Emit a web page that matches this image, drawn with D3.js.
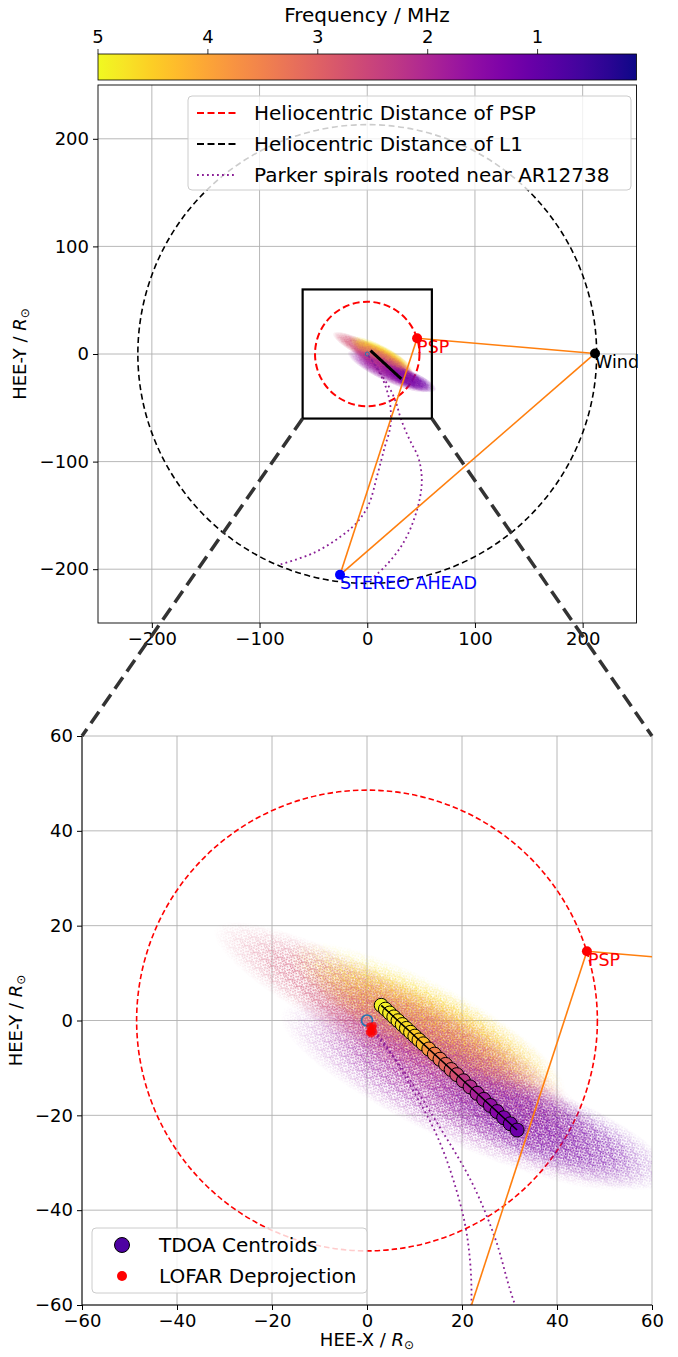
<!DOCTYPE html>
<html>
<head>
<meta charset="utf-8">
<script src="https://cdn.jsdelivr.net/npm/d3@7"></script>
<style>
  body { margin: 0; background: #fff; }
  text { font-family: "DejaVu Sans", sans-serif; }
</style>
</head>
<body>
<svg id="fig" width="678" height="1357"></svg>
<script>
// ---- data (HEE coordinates in solar radii) ----
const cbarTicks = [5, 4, 3, 2, 1];
const cbarRange = [5, 0.1];            // MHz, left -> right

const topTicks = [-200, -100, 0, 100, 200];
const zoomTicks = [-60, -40, -20, 0, 20, 40, 60];

const pspDist = 48.5;                  // heliocentric distance of PSP
const l1Dist = 213;                    // heliocentric distance of L1
const zoomBox = [-60, 60];

const craftNames = ["PSP", "Wind", "STEREO AHEAD"];
const craftX = [46.3, 211.5, -25.3];
const craftY = [14.6, 0.5, -205.2];
const craftLinks = [[0, 1], [0, 2], [1, 2]];

// TDOA centroids, high -> low frequency
const tdoaFreq = [4.95, 4.9, 4.85, 4.8, 4.75, 4.7, 4.65, 4.6, 4.5, 4.4, 4.3,
                  3.8, 3.5, 3.3, 3.1, 2.9, 2.7,
                  2.3, 2.1, 1.9, 1.75, 1.6, 1.45, 1.3, 1.2, 1.1];
const tdoaX = [3.00, 3.88, 4.77, 5.65, 6.53, 7.42, 8.30, 9.18, 10.07, 10.95, 11.83,
               13.01, 14.19, 15.37, 16.55, 17.72, 18.90,
               20.30, 21.70, 23.17, 24.57, 25.97, 27.37, 28.77, 30.17, 31.60];
const tdoaY = [3.20, 2.39, 1.58, 0.76, -0.05, -0.86, -1.67, -2.49, -3.30, -4.11, -4.92,
               -6.01, -7.09, -8.17, -9.26, -10.34, -11.42,
               -12.71, -14.00, -15.35, -16.64, -17.92, -19.21, -20.50, -21.78, -23.10];

// LOFAR deprojected positions
const lofarX = [0.6, 1.2, 0.8, 1.4, 0.9, 1.3, 0.5];
const lofarY = [-1.2, -1.6, -2.1, -2.4, -2.8, -1.1, -2.5];

// Monte-Carlo source clouds, one extent per frequency band
const cloudFreq = [2.7, 4.8, 4.3, 3.0, 2.3, 1.6, 1.1];
const cloudX = [0, 12, 15, 14, 17, 20, 38];
const cloudY = [3, 0.5, -2, -5, -10, -16, -23];
const cloudA = [36, 32, 30, 32, 36, 42, 28];
const cloudB = [8, 8, 8, 9, 10, 10, 8];
const cloudAngle = [-27, -27, -27, -28, -28, -25, -22];

// Parker spirals rooted near AR12738
const spiralAX = [0.8, 3.2, 9.2, 14.5, 18.2, 21, 22, 21, 16.4, 10, 0.9, -10, -23.8, -50, -80.4];
const spiralAY = [-1.5, -4.1, -13.9, -23.8, -33.7, -45, -58, -70, -86, -110, -141, -157, -169, -185, -195.4];
const spiralBX = [1.5, 8, 15, 22, 27, 30.5, 35, 41, 47, 50, 50.5, 48, 44, 38, 30, 17, 2];
const spiralBY = [-2.5, -11, -22, -34, -46, -58, -70, -83, -95, -108, -122, -138, -152, -167, -181, -197, -211];

// ---- drawing ----
const svg = d3.select("#fig");
const defs = svg.append("defs");
const color = d3.scaleSequential(d3.interpolatePlasma).domain([0.1, 5]);
const ORANGE = "#ff7f0e";
const SPIRAL = "#8a1f96";

// colour bar
const cb = d3.scaleLinear().domain(cbarRange).range([98, 636.5]);
const cg = defs.append("linearGradient").attr("id", "cbgrad");
d3.range(0, 21).forEach(i => {
  cg.append("stop").attr("offset", i / 20)
    .attr("stop-color", color(cbarRange[0] + (cbarRange[1] - cbarRange[0]) * i / 20));
});
svg.append("rect").attr("x", 98).attr("y", 54).attr("width", 538.5).attr("height", 26)
  .attr("fill", "url(#cbgrad)").attr("stroke", "#000").attr("stroke-width", 0.8);
cbarTicks.forEach(t => {
  svg.append("line").attr("x1", cb(t)).attr("x2", cb(t)).attr("y1", 54).attr("y2", 49)
    .attr("stroke", "#000").attr("stroke-width", 0.8);
  svg.append("text").attr("x", cb(t)).attr("y", 43).attr("text-anchor", "middle")
    .attr("font-size", 18).text(t);
});
svg.append("text").attr("x", 367).attr("y", 22).attr("text-anchor", "middle")
  .attr("font-size", 20).text("Frequency / MHz");

// shared defs: fade mask + dot tile
const fg = defs.append("radialGradient").attr("id", "fadeGrad");
fg.append("stop").attr("offset", 0).attr("stop-color", "#fff").attr("stop-opacity", 1);
fg.append("stop").attr("offset", 0.55).attr("stop-color", "#fff").attr("stop-opacity", 0.8);
fg.append("stop").attr("offset", 1).attr("stop-color", "#fff").attr("stop-opacity", 0);
defs.append("mask").attr("id", "fade").attr("maskContentUnits", "objectBoundingBox")
  .append("rect").attr("width", 1).attr("height", 1).attr("fill", "url(#fadeGrad)");
const dotSpots = [[.05, .12], [.31, .04], [.62, .15], [.88, .08], [.18, .33], [.47, .28],
                  [.74, .39], [.95, .31], [.09, .55], [.36, .51], [.58, .62], [.83, .58],
                  [.24, .76], [.49, .85], [.71, .79], [.93, .83], [.02, .95], [.40, .70],
                  [.66, .97], [.14, .88]];

function drawCloud(g, xs, ys, tile, dotR, prefix) {
  const k = xs(1) - xs(0);
  cloudFreq.forEach((f, i) => {
    const pat = defs.append("pattern").attr("id", prefix + i)
      .attr("patternUnits", "userSpaceOnUse").attr("width", tile).attr("height", tile)
      .attr("patternTransform", `rotate(${i * 37 + 11}) translate(${i * tile * 0.29},${i * tile * 0.53})`);
    dotSpots.forEach(p => pat.append("circle").attr("cx", p[0] * tile).attr("cy", p[1] * tile)
      .attr("r", dotR).attr("fill", color(f)).attr("fill-opacity", 0.8));
    const cx = xs(cloudX[i]), cy = ys(cloudY[i]);
    g.append("ellipse").attr("cx", cx).attr("cy", cy)
      .attr("rx", cloudA[i] * k).attr("ry", cloudB[i] * k)
      .attr("transform", `rotate(${-cloudAngle[i]},${cx},${cy})`)
      .attr("fill", `url(#${prefix}${i})`).attr("mask", "url(#fade)");
  });
}

function drawCloudSolid(g, xs, ys) {
  const k = xs(1) - xs(0);
  cloudFreq.forEach((f, i) => {
    const cx = xs(cloudX[i]), cy = ys(cloudY[i]);
    g.append("ellipse").attr("cx", cx).attr("cy", cy)
      .attr("rx", cloudA[i] * k).attr("ry", cloudB[i] * k)
      .attr("transform", `rotate(${-cloudAngle[i]},${cx},${cy})`)
      .attr("fill", color(f)).attr("fill-opacity", 0.6).attr("mask", "url(#fade)");
  });
}

function gridAndAxes(xs, ys, ticks, fontSize) {
  const [x0, x1] = xs.range(), [y0, y1] = ys.range();
  const g = svg.append("g");
  ticks.forEach(t => {
    g.append("line").attr("x1", xs(t)).attr("x2", xs(t)).attr("y1", y0).attr("y2", y1)
      .attr("stroke", "#b0b0b0").attr("stroke-width", 0.9);
    g.append("line").attr("x1", x0).attr("x2", x1).attr("y1", ys(t)).attr("y2", ys(t))
      .attr("stroke", "#b0b0b0").attr("stroke-width", 0.9);
  });
  const ax = svg.append("g").attr("transform", `translate(0,${y0})`)
    .call(d3.axisBottom(xs).tickValues(ticks).tickSize(5).tickPadding(4));
  const ay = svg.append("g").attr("transform", `translate(${x0},0)`)
    .call(d3.axisLeft(ys).tickValues(ticks).tickSize(5).tickPadding(4));
  [ax, ay].forEach(a => {
    a.attr("font-size", fontSize).attr("font-family", "DejaVu Sans");
    a.select(".domain").remove();
    a.selectAll("text").attr("fill", "#000");
  });
}

function rsunLabel(t, prefix) {
  t.append("tspan").text(prefix);
  t.append("tspan").attr("font-style", "italic").text("R");
  t.append("tspan").attr("font-size", 12).attr("dy", 3).text("\u2299");
}

function yLabel(x, y) {
  const t = svg.append("text").attr("transform", `translate(${x},${y}) rotate(-90)`)
    .attr("text-anchor", "middle").attr("font-size", 18);
  rsunLabel(t, "HEE-Y / ");
}

const pts = (xa, ya) => xa.map((v, i) => [v, ya[i]]);

// ================= top panel =================
const xT = d3.scaleLinear().domain([-250, 250]).range([98, 636.5]);
const yT = d3.scaleLinear().domain([-250, 250]).range([623, 85]);
const kT = xT(1) - xT(0);
defs.append("clipPath").attr("id", "clipT").append("rect")
  .attr("x", 98).attr("y", 85).attr("width", 538.5).attr("height", 538);

gridAndAxes(xT, yT, topTicks, 18);
yLabel(26, yT(0));

const gT = svg.append("g").attr("clip-path", "url(#clipT)");
gT.append("circle").attr("cx", xT(0)).attr("cy", yT(0)).attr("r", l1Dist * kT)
  .attr("fill", "none").attr("stroke", "#000").attr("stroke-width", 1.6).attr("stroke-dasharray", "6,3.5");
gT.append("circle").attr("cx", xT(0)).attr("cy", yT(0)).attr("r", pspDist * kT)
  .attr("fill", "none").attr("stroke", "red").attr("stroke-width", 2).attr("stroke-dasharray", "7,3.5");
drawCloudSolid(gT, xT, yT);
drawCloud(gT, xT, yT, 6, 0.7, "cT");
gT.append("path").datum(pts(tdoaX, tdoaY))
  .attr("d", d3.line().x(d => xT(d[0])).y(d => yT(d[1])))
  .attr("fill", "none").attr("stroke", "#000").attr("stroke-width", 3);
gT.append("circle").attr("cx", xT(0)).attr("cy", yT(0)).attr("r", 2)
  .attr("fill", "none").attr("stroke", "#1f77b4").attr("stroke-width", 1);

const spiralLineT = d3.line().x(d => xT(d[0])).y(d => yT(d[1])).curve(d3.curveCatmullRom);
[pts(spiralAX, spiralAY), pts(spiralBX, spiralBY)].forEach(p => {
  gT.append("path").datum(p).attr("d", spiralLineT).attr("fill", "none")
    .attr("stroke", SPIRAL).attr("stroke-width", 1.8).attr("stroke-dasharray", "1.8,3.2");
});
craftLinks.forEach(([a, b]) => {
  gT.append("line").attr("x1", xT(craftX[a])).attr("y1", yT(craftY[a]))
    .attr("x2", xT(craftX[b])).attr("y2", yT(craftY[b]))
    .attr("stroke", ORANGE).attr("stroke-width", 1.6);
});
const craftColor = { "PSP": "red", "Wind": "#000", "STEREO AHEAD": "blue" };
craftNames.forEach((n, i) => {
  gT.append("circle").attr("cx", xT(craftX[i])).attr("cy", yT(craftY[i])).attr("r", 5)
    .attr("fill", craftColor[n]);
  svg.append("text").attr("x", xT(craftX[i])).attr("y", yT(craftY[i]) + 14.5)
    .attr("font-size", 17.5).attr("fill", craftColor[n]).text(n);
});

// zoom box
svg.append("rect").attr("x", xT(zoomBox[0])).attr("y", yT(zoomBox[1]))
  .attr("width", xT(zoomBox[1]) - xT(zoomBox[0])).attr("height", yT(zoomBox[0]) - yT(zoomBox[1]))
  .attr("fill", "none").attr("stroke", "#000").attr("stroke-width", 2.2);

// frame
svg.append("rect").attr("x", 98).attr("y", 85).attr("width", 538.5).attr("height", 538)
  .attr("fill", "none").attr("stroke", "#000").attr("stroke-width", 0.9);

// top legend
const legT = svg.append("g");
legT.append("rect").attr("x", 188).attr("y", 96).attr("width", 443).attr("height", 94)
  .attr("rx", 4).attr("fill", "#fff").attr("fill-opacity", 0.8)
  .attr("stroke", "#ccc").attr("stroke-width", 1);
const legTItems = [
  { label: "Heliocentric Distance of PSP", stroke: "red", dash: "7,3.5", w: 1.8 },
  { label: "Heliocentric Distance of L1", stroke: "#000", dash: "7,3.5", w: 1.8 },
  { label: "Parker spirals rooted near AR12738", stroke: SPIRAL, dash: "1.8,3.2", w: 1.8 }
];
legTItems.forEach((it, i) => {
  const y = 113 + i * 31;
  legT.append("line").attr("x1", 197).attr("x2", 236).attr("y1", y).attr("y2", y)
    .attr("stroke", it.stroke).attr("stroke-width", it.w).attr("stroke-dasharray", it.dash);
  legT.append("text").attr("x", 254).attr("y", y + 7).attr("font-size", 20).text(it.label);
});

// ================= bottom panel =================
const xB = d3.scaleLinear().domain([-60, 60]).range([82, 652]);
const yB = d3.scaleLinear().domain([-60, 60]).range([1305, 736]);
const kB = xB(1) - xB(0);
defs.append("clipPath").attr("id", "clipB").append("rect")
  .attr("x", 82).attr("y", 736).attr("width", 570).attr("height", 569);

gridAndAxes(xB, yB, zoomTicks, 18);
yLabel(22, yB(0));
rsunLabel(svg.append("text").attr("x", 367).attr("y", 1346)
  .attr("text-anchor", "middle").attr("font-size", 18), "HEE-X / ");

const gB = svg.append("g").attr("clip-path", "url(#clipB)");
gB.append("circle").attr("cx", xB(0)).attr("cy", yB(0)).attr("r", pspDist * kB)
  .attr("fill", "none").attr("stroke", "red").attr("stroke-width", 1.6).attr("stroke-dasharray", "5.5,3");
drawCloud(gB, xB, yB, 11, 0.95, "cB");

const spiralLineB = d3.line().x(d => xB(d[0])).y(d => yB(d[1])).curve(d3.curveCatmullRom);
[pts(spiralAX, spiralAY), pts(spiralBX, spiralBY)].forEach(p => {
  gB.append("path").datum(p).attr("d", spiralLineB).attr("fill", "none")
    .attr("stroke", SPIRAL).attr("stroke-width", 1.8).attr("stroke-dasharray", "1.8,3.2");
});
craftLinks.forEach(([a, b]) => {
  gB.append("line").attr("x1", xB(craftX[a])).attr("y1", yB(craftY[a]))
    .attr("x2", xB(craftX[b])).attr("y2", yB(craftY[b]))
    .attr("stroke", ORANGE).attr("stroke-width", 1.6);
});

// sun-centre marker and LOFAR
gB.append("circle").attr("cx", xB(0)).attr("cy", yB(0)).attr("r", 5.5)
  .attr("fill", "none").attr("stroke", "#1f77b4").attr("stroke-width", 1.6);
lofarX.forEach((x, i) => {
  gB.append("circle").attr("cx", xB(x)).attr("cy", yB(lofarY[i])).attr("r", 3.6)
    .attr("fill", "red").attr("fill-opacity", 0.75);
});

// TDOA centroids
tdoaFreq.forEach((f, i) => {
  gB.append("circle").attr("cx", xB(tdoaX[i])).attr("cy", yB(tdoaY[i])).attr("r", 7)
    .attr("fill", color(f)).attr("stroke", "#000").attr("stroke-width", 1);
});
gB.append("path").datum(pts(tdoaX, tdoaY))
  .attr("d", d3.line().x(d => xB(d[0])).y(d => yB(d[1])))
  .attr("fill", "none").attr("stroke", "#000").attr("stroke-width", 1.5);

// PSP in zoom
gB.append("circle").attr("cx", xB(craftX[0])).attr("cy", yB(craftY[0])).attr("r", 5).attr("fill", "red");
gB.append("text").attr("x", xB(craftX[0]) + 1).attr("y", yB(craftY[0]) + 14.5)
  .attr("font-size", 17.5).attr("fill", "red").text(craftNames[0]);

// spines
svg.append("line").attr("x1", 82).attr("x2", 82).attr("y1", 736).attr("y2", 1305)
  .attr("stroke", "#000").attr("stroke-width", 1);
svg.append("line").attr("x1", 82).attr("x2", 652).attr("y1", 1305).attr("y2", 1305)
  .attr("stroke", "#000").attr("stroke-width", 1);

// bottom legend
const legB = svg.append("g");
legB.append("rect").attr("x", 92).attr("y", 1228).attr("width", 275).attr("height", 65)
  .attr("rx", 4).attr("fill", "#fff").attr("fill-opacity", 0.8)
  .attr("stroke", "#ccc").attr("stroke-width", 1);
legB.append("circle").attr("cx", 122).attr("cy", 1245).attr("r", 7.5)
  .attr("fill", color(0.75)).attr("stroke", "#000").attr("stroke-width", 1);
legB.append("text").attr("x", 159).attr("y", 1252).attr("font-size", 20).text("TDOA Centroids");
legB.append("circle").attr("cx", 122).attr("cy", 1276).attr("r", 5).attr("fill", "red");
legB.append("text").attr("x", 159).attr("y", 1283).attr("font-size", 20).text("LOFAR Deprojection");

// zoom connectors
[[zoomBox[0], 82], [zoomBox[1], 652]].forEach(([v, xb]) => {
  svg.append("line").attr("x1", xT(v)).attr("y1", yT(zoomBox[0])).attr("x2", xb).attr("y2", 736)
    .attr("stroke", "#333").attr("stroke-width", 3.5).attr("stroke-dasharray", "14,7");
});
</script>
</body>
</html>
